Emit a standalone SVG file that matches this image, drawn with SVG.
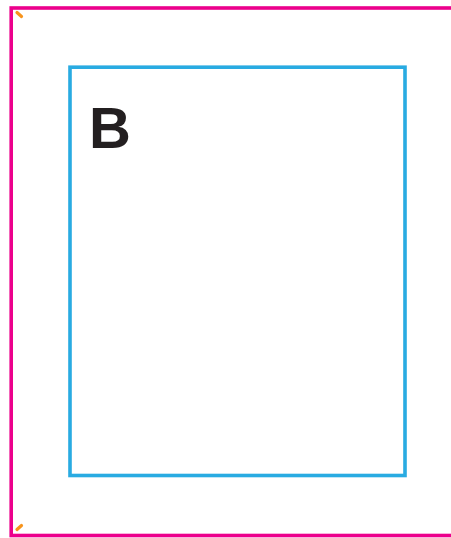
<svg xmlns="http://www.w3.org/2000/svg" width="451" height="538" viewBox="0 0 451 538">
<style>
.frame{fill:none;stroke:#EC008C;stroke-width:3.6}
.box{fill:none;stroke:#29ABE2;stroke-width:3.6}
.tick{stroke:#F7941D;stroke-width:3.2;stroke-linecap:round}
.lbl{font-family:"Liberation Sans",Arial,sans-serif;font-weight:bold;fill:#231F20}
</style>
<rect width="451" height="538" fill="#fff"/>
<g id="frame">
<rect class="frame" x="11.2" y="8" width="460" height="527.5"/>
<line class="tick" x1="17" y1="12.5" x2="21.5" y2="16.5"/>
<line class="tick" x1="17" y1="529.5" x2="21.5" y2="525.5"/>
</g>
<g id="B">
<rect class="box" x="70" y="67.2" width="335" height="408.3"/>
<text class="lbl" x="89" y="148" font-size="58">B</text>
</g>
<g id="connectors"></g>
</svg>
